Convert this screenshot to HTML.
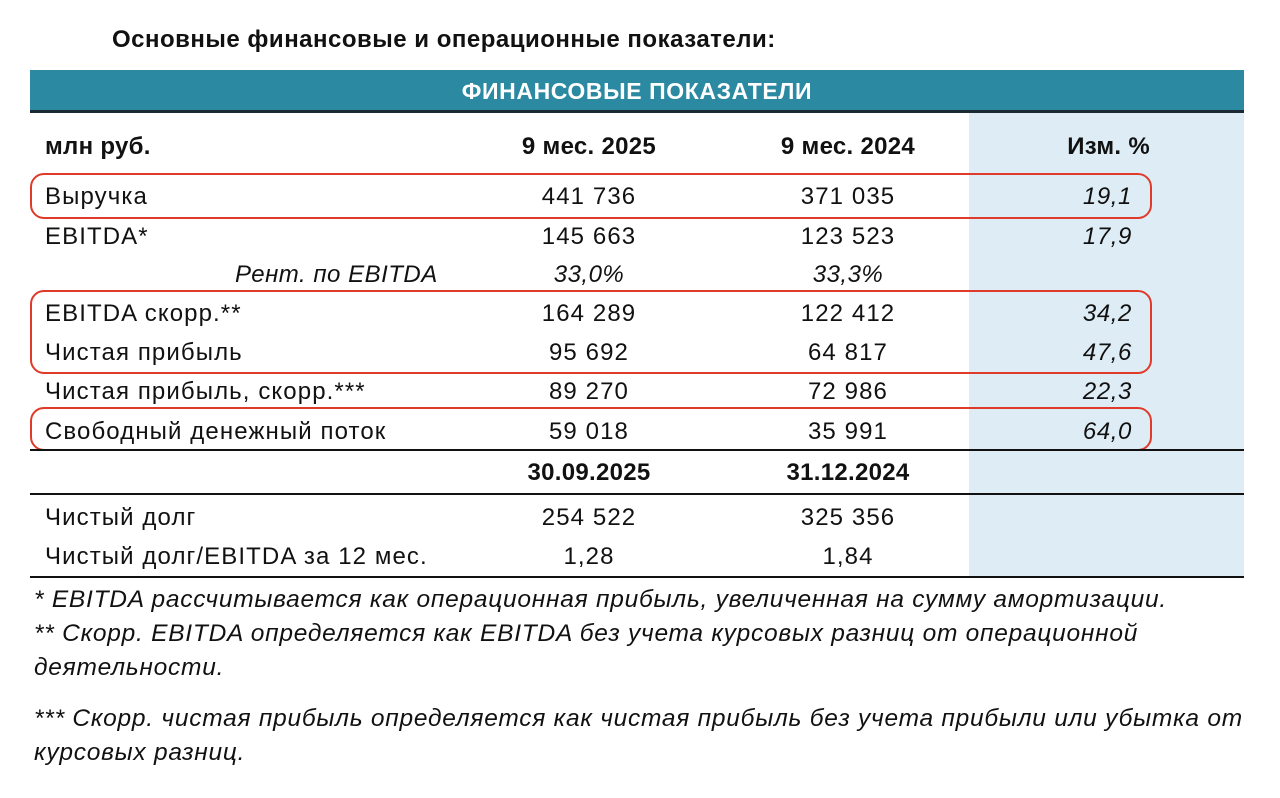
<!DOCTYPE html>
<html><head><meta charset="utf-8"><style>
body{margin:0;width:1280px;height:798px;background:#fff;position:relative;overflow:hidden;font-family:"Liberation Sans",sans-serif;color:#111}
.a{position:absolute;white-space:nowrap;font-size:24px;letter-spacing:1.1px;line-height:26px}
.c2{left:479px;width:220px;text-align:center}
.c3{left:738px;width:220px;text-align:center}
.c4{left:980px;width:152px;text-align:right;font-style:italic;letter-spacing:0.6px}
.l{left:45px}
.b{font-weight:bold;letter-spacing:0.3px}
.i{font-style:italic;letter-spacing:0.5px}
.hr{position:absolute;left:30px;width:1214px;height:2px;background:#111}
.box{position:absolute;border:2.5px solid #e03a2a;border-radius:14px;left:30px;width:1118px}
.fn{position:absolute;left:34px;font-size:24.5px;letter-spacing:0.75px;font-style:italic;line-height:34px;white-space:nowrap}
</style></head><body>
<div class="a b" style="left:112px;top:27px;font-size:24px;letter-spacing:0.5px">Основные финансовые и операционные показатели:</div>
<div style="position:absolute;left:30px;top:70px;width:1214px;height:40px;background:#2b89a2;border-bottom:3px solid #1b2b33"></div>
<div class="a b" style="left:30px;width:1214px;top:78px;text-align:center;color:#fff;font-size:23px;letter-spacing:0.6px">ФИНАНСОВЫЕ ПОКАЗАТЕЛИ</div>
<div style="position:absolute;left:969px;top:113px;width:275px;height:464px;background:#deedf5"></div>

<div class="a b l" style="top:134px">млн руб.</div>
<div class="a b c2" style="top:134px">9 мес. 2025</div>
<div class="a b c3" style="top:134px">9 мес. 2024</div>
<div class="a b" style="left:980px;width:170px;text-align:right;top:134px">Изм. %</div>

<div class="a l" style="top:184px">Выручка</div><div class="a c2" style="top:184px">441 736</div><div class="a c3" style="top:184px">371 035</div><div class="a c4" style="top:184px">19,1</div>
<div class="a l" style="top:224px">EBITDA*</div><div class="a c2" style="top:224px">145 663</div><div class="a c3" style="top:224px">123 523</div><div class="a c4" style="top:224px">17,9</div>
<div class="a i" style="left:235px;top:262px">Рент. по EBITDA</div><div class="a c2 i" style="top:262px">33,0%</div><div class="a c3 i" style="top:262px">33,3%</div>
<div class="a l" style="top:301px">EBITDA скорр.**</div><div class="a c2" style="top:301px">164 289</div><div class="a c3" style="top:301px">122 412</div><div class="a c4" style="top:301px">34,2</div>
<div class="a l" style="top:340px">Чистая прибыль</div><div class="a c2" style="top:340px">95 692</div><div class="a c3" style="top:340px">64 817</div><div class="a c4" style="top:340px">47,6</div>
<div class="a l" style="top:379px">Чистая прибыль, скорр.***</div><div class="a c2" style="top:379px">89 270</div><div class="a c3" style="top:379px">72 986</div><div class="a c4" style="top:379px">22,3</div>
<div class="a l" style="top:419px">Свободный денежный поток</div><div class="a c2" style="top:419px">59 018</div><div class="a c3" style="top:419px">35 991</div><div class="a c4" style="top:419px">64,0</div>

<div class="box" style="top:173px;height:42px"></div>
<div class="box" style="top:290px;height:80px"></div>
<div class="box" style="top:407px;height:40px"></div>

<div class="hr" style="top:449px"></div>
<div class="a b c2" style="top:460px">30.09.2025</div><div class="a b c3" style="top:460px">31.12.2024</div>
<div class="hr" style="top:493px"></div>
<div class="a l" style="top:505px">Чистый долг</div><div class="a c2" style="top:505px">254 522</div><div class="a c3" style="top:505px">325 356</div>
<div class="a l" style="top:544px">Чистый долг/EBITDA за 12 мес.</div><div class="a c2" style="top:544px">1,28</div><div class="a c3" style="top:544px">1,84</div>
<div class="hr" style="top:576px"></div>

<div class="fn" style="top:583px">* EBITDA рассчитывается как операционная прибыль, увеличенная на сумму амортизации.</div>
<div class="fn" style="top:617px">** Скорр. EBITDA определяется как EBITDA без учета курсовых разниц от операционной</div>
<div class="fn" style="top:651px">деятельности.</div>
<div class="fn" style="top:702px">*** Скорр. чистая прибыль определяется как чистая прибыль без учета прибыли или убытка от</div>
<div class="fn" style="top:736px">курсовых разниц.</div>
</body></html>
